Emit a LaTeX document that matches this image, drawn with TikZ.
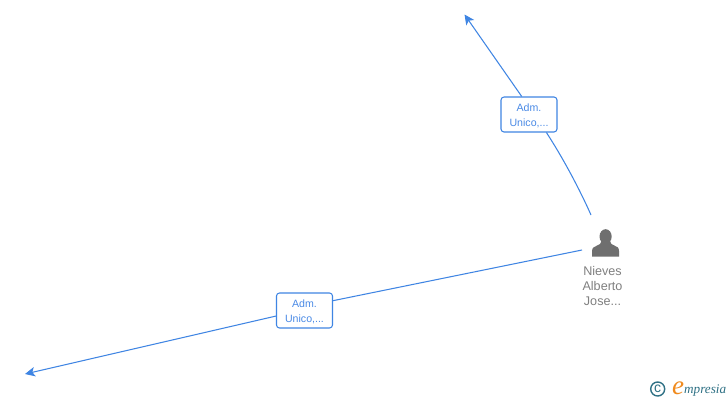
\documentclass[tikz,border=0pt]{standalone}
\usepackage{fontspec}
\setmainfont{Liberation Sans}
\newfontfamily\logofont{Liberation Serif}
\usetikzlibrary{arrows.meta}
\definecolor{linkblue}{HTML}{3F85E3}
\definecolor{boxtext}{HTML}{4A8AE6}
\definecolor{persongrey}{HTML}{6F6F6F}
\definecolor{labelgrey}{HTML}{808080}
\definecolor{logoteal}{HTML}{2F7185}
\definecolor{logoorange}{HTML}{F08A1D}
\tikzset{
  linkline/.style={draw=linkblue,line width=1.05pt},
  linkarrow/.style={linkline,-{Stealth[length=10pt,width=9.5pt,inset=2.5pt]}},
  rolebox/.style={draw=linkblue,line width=1.05pt,rounded corners=3pt,fill=white,
    minimum width=56pt,minimum height=35pt,inner sep=0pt,align=center,
    text=boxtext,font=\fontsize{10.6}{15}\selectfont},
  personlabel/.style={text=labelgrey,align=center,inner sep=0pt,
    font=\fontsize{12.6}{15}\selectfont}
}
\begin{document}
\begin{tikzpicture}[x=1pt,y=-1pt]
\useasboundingbox (0,0) rectangle (728,400);
\fill[white] (0,0) rectangle (728,400);
% nodes
\node[rolebox] (boxa) at (529,114.5) {\rule{0pt}{10pt}Adm.\\Unico,...};
\node[rolebox] (boxb) at (304.5,310.5) {\rule{0pt}{10pt}Adm.\\Unico,...};
\node[personlabel] (person) at (602.5,286) {Nieves\\Alberto\\Jose...};
\coordinate (persontop) at (591,215);
\coordinate (personleft) at (582,250);
\coordinate (endtop) at (464.5,14.5);
\coordinate (endleft) at (25,374);
% person icon
\fill[persongrey] (605.6,236.5) ellipse (6.1 and 7.3);
\fill[persongrey] (592,256.7) -- (592,251) .. controls (592.3,247.5) and (594,246.7) .. (597,245.6)
  .. controls (599.5,244.8) and (601,243.8) .. (601.5,241) -- (610,241)
  .. controls (610.5,243.8) and (612,244.8) .. (614.5,245.6)
  .. controls (617.5,246.7) and (618.8,247.5) .. (619,251) -- (619,256.7) -- cycle;
% connectors
\draw[linkline] (persontop) .. controls (580,190) and (563,158) .. (boxa.314);
\draw[linkarrow] (boxa.112) -- (endtop);
\draw[linkline] (personleft) -- (boxb.19);
\draw[linkarrow] (boxb.191) -- (endleft);
% logo
\node[draw=logoteal,line width=1.4pt,circle,minimum size=14pt,inner sep=0pt,text=logoteal,
  font=\fontsize{14}{14}\selectfont] (copy) at (657.7,389) {\raisebox{0.7pt}{c}};
\node[inner sep=0pt,anchor=base west,text=logoorange,font=\logofont\itshape\fontsize{27}{27}\selectfont] (logoe) at (672,394.5) {e};
\node[inner sep=0pt,anchor=base west,text=logoteal,font=\logofont\itshape\fontsize{13.2}{14}\selectfont] (logotext) at (684,393.5) {mpresia};
\end{tikzpicture}
\end{document}
